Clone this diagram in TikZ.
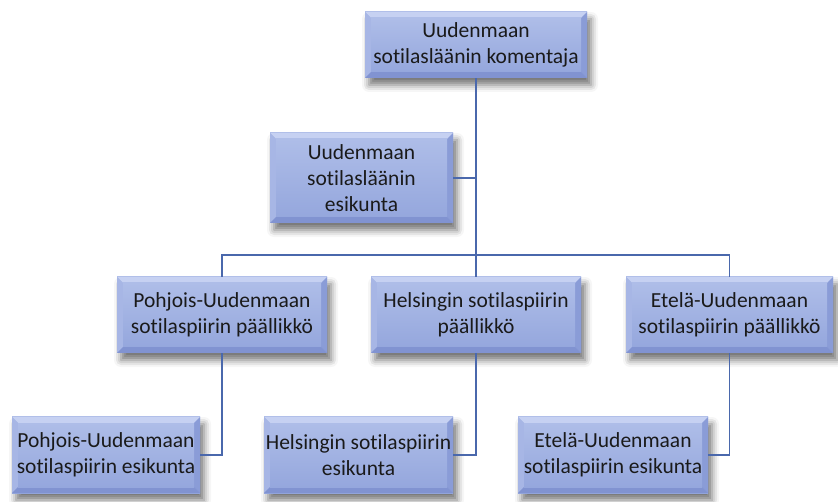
\documentclass[tikz,border=0pt]{standalone}
\usepackage{fontspec}
\setmainfont[Ligatures=CommonOff]{Carlito}
\usetikzlibrary{shadows.blur,calc}
\definecolor{bodytop}{HTML}{AEBDE8}
\definecolor{bodybot}{HTML}{95A7DD}
\definecolor{bevtop}{HTML}{C6D1F2}
\definecolor{bevleft}{HTML}{A7B6E5}
\definecolor{bevright}{HTML}{8A9CD7}
\definecolor{bevbot}{HTML}{8193D1}
\definecolor{linec}{HTML}{4A68AC}
\definecolor{txt}{HTML}{1A1A1A}
\tikzset{
  orgbox/.style={rectangle, inner sep=0pt, top color=bodytop, bottom color=bodybot,
    text=txt, align=center, font=\fontsize{21.5}{26}\selectfont,
    blur shadow={shadow xshift=4pt, shadow yshift=-7pt, shadow blur radius=7pt, shadow opacity=55},
    path picture={
      \path (path picture bounding box.north west) coordinate (nw)
            (path picture bounding box.south east) coordinate (se)
            (path picture bounding box.north east) coordinate (ne)
            (path picture bounding box.south west) coordinate (sw);
      \fill[bevtop] (nw) -- (ne) -- ($(ne)+(-6pt,-6pt)$) -- ($(nw)+(6pt,-6pt)$) -- cycle;
      \fill[bevleft] (nw) -- ($(nw)+(6pt,-6pt)$) -- ($(sw)+(6pt,6pt)$) -- (sw) -- cycle;
      \fill[bevright] (ne) -- ($(ne)+(-6pt,-6pt)$) -- ($(se)+(-6pt,6pt)$) -- (se) -- cycle;
      \fill[bevbot] (sw) -- ($(sw)+(6pt,6pt)$) -- ($(se)+(-6pt,6pt)$) -- (se) -- cycle;
      \fill[top color=bodytop, bottom color=bodybot] ($(nw)+(6pt,-6pt)$) rectangle ($(se)+(-6pt,6pt)$);
    }},
  conn/.style={draw=linec, line width=1.2pt}
}
\begin{document}
\begin{tikzpicture}[x=1pt,y=-1pt]
\useasboundingbox (0,0) rectangle (838,502);
\node[orgbox, minimum width=222pt, minimum height=66pt] (top) at (476,45) {Uudenmaan\\sotilasläänin komentaja};
\node[orgbox, minimum width=183pt, minimum height=90pt] (mid) at (361.5,178) {Uudenmaan\\sotilasläänin\\esikunta};
\node[orgbox, minimum width=210pt, minimum height=76pt] (p1) at (222,315) {Pohjois-Uudenmaan\\sotilaspiirin päällikkö};
\node[orgbox, minimum width=210pt, minimum height=76pt] (h1) at (476,315) {Helsingin sotilaspiirin\\päällikkö};
\node[orgbox, minimum width=207pt, minimum height=76pt] (e1) at (729.5,315) {Etelä-Uudenmaan\\sotilaspiirin päällikkö};
\node[orgbox, minimum width=188pt, minimum height=76pt] (p2) at (106,455) {Pohjois-Uudenmaan\\sotilaspiirin esikunta};
\node[orgbox, minimum width=189pt, minimum height=76pt] (h2) at (358.5,455) {Helsingin sotilaspiirin\\esikunta};
\node[orgbox, minimum width=190pt, minimum height=76pt] (e2) at (613,455) {Etelä-Uudenmaan\\sotilaspiirin esikunta};
\coordinate (j) at (476,255);
\draw[conn] (top.south) -- (h1.north);
\draw[conn] (mid.east) -- (mid.east -| top.south);
\draw[conn] (p1.north) |- (j) -| (e1.north);
\draw[conn] (p1.south) |- (p2.east);
\draw[conn] (h1.south) |- (h2.east);
\draw[conn] (e1.south) |- (e2.east);
\end{tikzpicture}
\end{document}
